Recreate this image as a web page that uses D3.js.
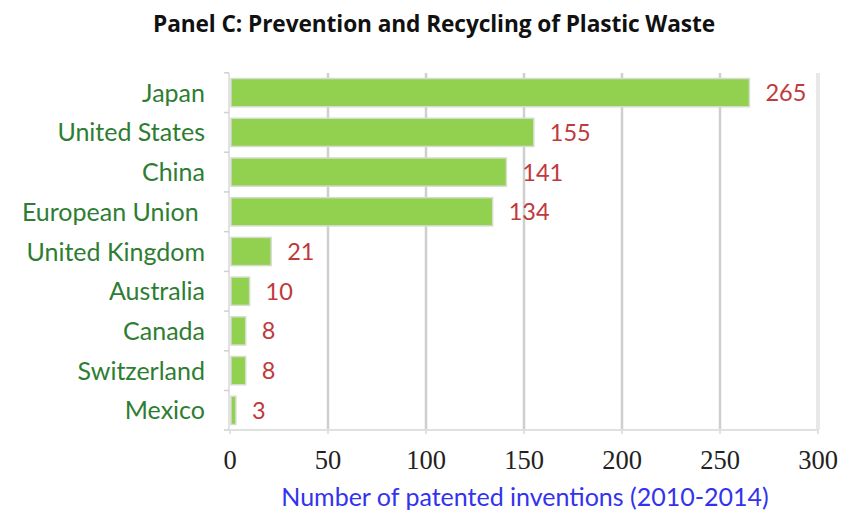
<!DOCTYPE html>
<html>
<head>
<meta charset="utf-8">
<script src="https://cdn.jsdelivr.net/npm/d3@7"></script>
<style>
  html, body { margin: 0; padding: 0; background: #fff; }
  svg { display: block; }
</style>
</head>
<body>
<svg id="chart" width="841" height="514"></svg>
<script>
// Patented inventions in prevention and recycling of plastic waste, 2010-2014
const countries = ["Japan", "United States", "China", "European Union ", "United Kingdom",
                   "Australia", "Canada", "Switzerland", "Mexico"];
const inventions = [265, 155, 141, 134, 21, 10, 8, 8, 3];
const xTicks = [0, 50, 100, 150, 200, 250, 300];

const titleText = "Panel C: Prevention and Recycling of Plastic Waste";
const xAxisTitle = "Number of patented inventions (2010-2014)";

const svg = d3.select("#chart");
const margin = { left: 230, right: 23, top: 73, bottom: 84 };
const W = 841, H = 514;

const x = d3.scaleLinear().domain([0, 300]).range([margin.left, W - margin.right]);
const y = d3.scaleBand().domain(countries).range([margin.top, H - margin.bottom])
  .paddingInner(0.29).paddingOuter(0.14);

const sansFont = "Lato, 'Open Sans', sans-serif";

// Title
svg.append("text")
  .attr("x", 434).attr("y", 32)
  .attr("text-anchor", "middle")
  .attr("font-family", "'Open Sans', sans-serif")
  .attr("font-weight", "bold")
  .attr("font-size", 22.7)
  .attr("letter-spacing", -0.1)
  .attr("fill", "#111")
  .text(titleText);

// Vertical gridlines
const plotBottom = H - margin.bottom;
svg.append("g").selectAll("line")
  .data(xTicks.filter(d => d > 0))
  .join("line")
  .attr("x1", d => x(d)).attr("x2", d => x(d))
  .attr("y1", margin.top).attr("y2", plotBottom)
  .attr("stroke", d => d === 300 ? "#e8e8e8" : "#cfcfcf")
  .attr("stroke-width", d => d === 300 ? 4 : 2.5);

// Bottom axis line with small ticks
svg.append("line")
  .attr("x1", x(0)).attr("x2", x(300))
  .attr("y1", plotBottom).attr("y2", plotBottom)
  .attr("stroke", "#e0e0e0").attr("stroke-width", 2);
svg.append("g").selectAll("line")
  .data(xTicks)
  .join("line")
  .attr("x1", d => x(d)).attr("x2", d => x(d))
  .attr("y1", plotBottom).attr("y2", plotBottom + 4)
  .attr("stroke", "#d8d8d8").attr("stroke-width", 1.5);

// Left axis line with category separators
svg.append("line")
  .attr("x1", x(0) - 1).attr("x2", x(0) - 1)
  .attr("y1", margin.top).attr("y2", plotBottom)
  .attr("stroke", "#d8d8d8").attr("stroke-width", 1.5);
const sepY = countries.map(c => y(c) - y.step() * y.paddingInner() / 2).concat([plotBottom]);
svg.append("g").selectAll("line")
  .data(sepY)
  .join("line")
  .attr("x1", x(0) - 6).attr("x2", x(0) - 1)
  .attr("y1", d => d).attr("y2", d => d)
  .attr("stroke", "#d0d0d0").attr("stroke-width", 1.5);

// Bars
const data = countries.map((c, i) => ({ country: c, value: inventions[i] }));
svg.append("g").selectAll("rect")
  .data(data)
  .join("rect")
  .attr("x", x(0) + 1)
  .attr("y", d => y(d.country))
  .attr("width", d => x(d.value) - x(0) - 1)
  .attr("height", y.bandwidth())
  .attr("fill", "#92d050")
  .attr("stroke", "#d4dccb")
  .attr("stroke-width", 1.5);

// Value labels
svg.append("g").selectAll("text")
  .data(data)
  .join("text")
  .attr("x", d => x(d.value) + 16)
  .attr("y", d => y(d.country) + y.bandwidth() / 2)
  .attr("dy", "0.36em")
  .attr("font-family", sansFont)
  .attr("font-size", 23.5)
  .attr("fill", "#c0393b")
  .text(d => d.value);

// Category labels
svg.append("g").selectAll("text")
  .data(data)
  .join("text")
  .attr("x", 205)
  .attr("y", d => y(d.country) + y.bandwidth() / 2)
  .attr("dy", "0.36em")
  .attr("text-anchor", "end")
  .attr("font-family", sansFont)
  .attr("font-size", 25)
  .attr("fill", "#2e7d32")
  .attr("xml:space", "preserve")
  .style("white-space", "pre")
  .text(d => d.country);

// X tick labels
svg.append("g").selectAll("text")
  .data(xTicks)
  .join("text")
  .attr("x", d => x(d))
  .attr("y", 469)
  .attr("text-anchor", "middle")
  .attr("font-family", "'Liberation Serif', 'DejaVu Serif', serif")
  .attr("font-size", 26.5)
  .attr("fill", "#222")
  .text(d => d);

// X axis title
svg.append("text")
  .attr("x", 525).attr("y", 506)
  .attr("text-anchor", "middle")
  .attr("font-family", sansFont)
  .attr("font-size", 25)
  .attr("fill", "#3333ee")
  .text(xAxisTitle);
</script>
</body>
</html>
